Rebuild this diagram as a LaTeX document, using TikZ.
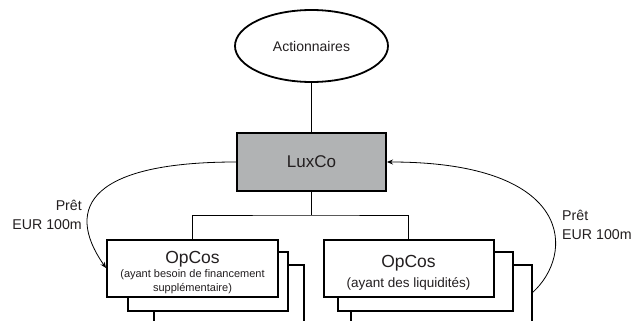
\documentclass[tikz,border=0pt]{standalone}
\usepackage{fontspec}
\setmainfont{Liberation Sans}
\usetikzlibrary{shapes.geometric, arrows.meta}
\definecolor{textInk}{RGB}{35, 31, 32}
\definecolor{luxGrey}{RGB}{177, 179, 180}

\begin{document}
\begin{tikzpicture}[x=1pt, y=-1pt,
    entity/.style={draw, ellipse, line width=1.8pt, inner sep=0pt, minimum width=153pt, minimum height=72pt, text=textInk, font=\fontsize{14}{16}\selectfont},
    holdco/.style={draw, line width=2pt, fill=luxGrey, inner sep=0pt, minimum width=149pt, minimum height=58pt, text=textInk, font=\fontsize{17}{19}\selectfont},
    opbox/.style={draw, line width=2pt, fill=white, inner sep=0pt, minimum height=57pt, align=center, text=textInk},
    backbox/.style={draw, line width=2pt, fill=white},
    link/.style={line width=0.8pt},
    loan/.style={line width=0.8pt, -{Stealth[length=6pt, width=5pt]}},
    note/.style={text=textInk, inner sep=0pt, font=\fontsize{14.2}{19}\selectfont}]
  \clip (0,0) rectangle (633,321);
  \node[entity] (act) at (311.5,46) {Actionnaires};
  \node[holdco] (lux) at (311.5,162) {LuxCo};
  \draw[link] (act) -- (lux);
  \draw[backbox] (154,265) rectangle (304,340);
  \draw[backbox] (128,252) rectangle (288,311);
  \node[opbox, minimum width=171pt, font=\fontsize{11}{13.8}\selectfont] (opl) at (192.5,268)
    {\rule{0pt}{21.5pt}{\fontsize{17.5}{18}\selectfont OpCos}\\[0.6pt]
     (ayant besoin de financement\\
     suppl\'ementaire)};
  \draw[backbox] (351,265) rectangle (532,340);
  \draw[backbox] (338,252) rectangle (513,311);
  \node[opbox, minimum width=170pt, font=\fontsize{13.5}{20}\selectfont] (opr) at (408.5,268)
    {\rule{0pt}{22pt}{\fontsize{17.5}{18}\selectfont OpCos}\\
     (ayant des liquidit\'es)};
  \coordinate (bus) at (311.5,215);
  \coordinate (rstart) at (532,293);
  \draw[link] (lux) -- (bus);
  \draw[link] (opl.north) |- (bus) -| (opr.north);
  \draw[loan] (lux.west) .. controls +(-141,0) and +(-44,-63) .. (opl.west);
  \draw[loan] (rstart) .. controls +(43,-38) and +(189,0) .. (lux.east);
  \node[note, anchor=east, align=right] (loanl) at (82,214.5) {Pr\^et\\EUR 100m};
  \node[note, anchor=west, align=left] (loanr) at (562,224.5) {Pr\^et\\EUR 100m};
\end{tikzpicture}
\end{document}
